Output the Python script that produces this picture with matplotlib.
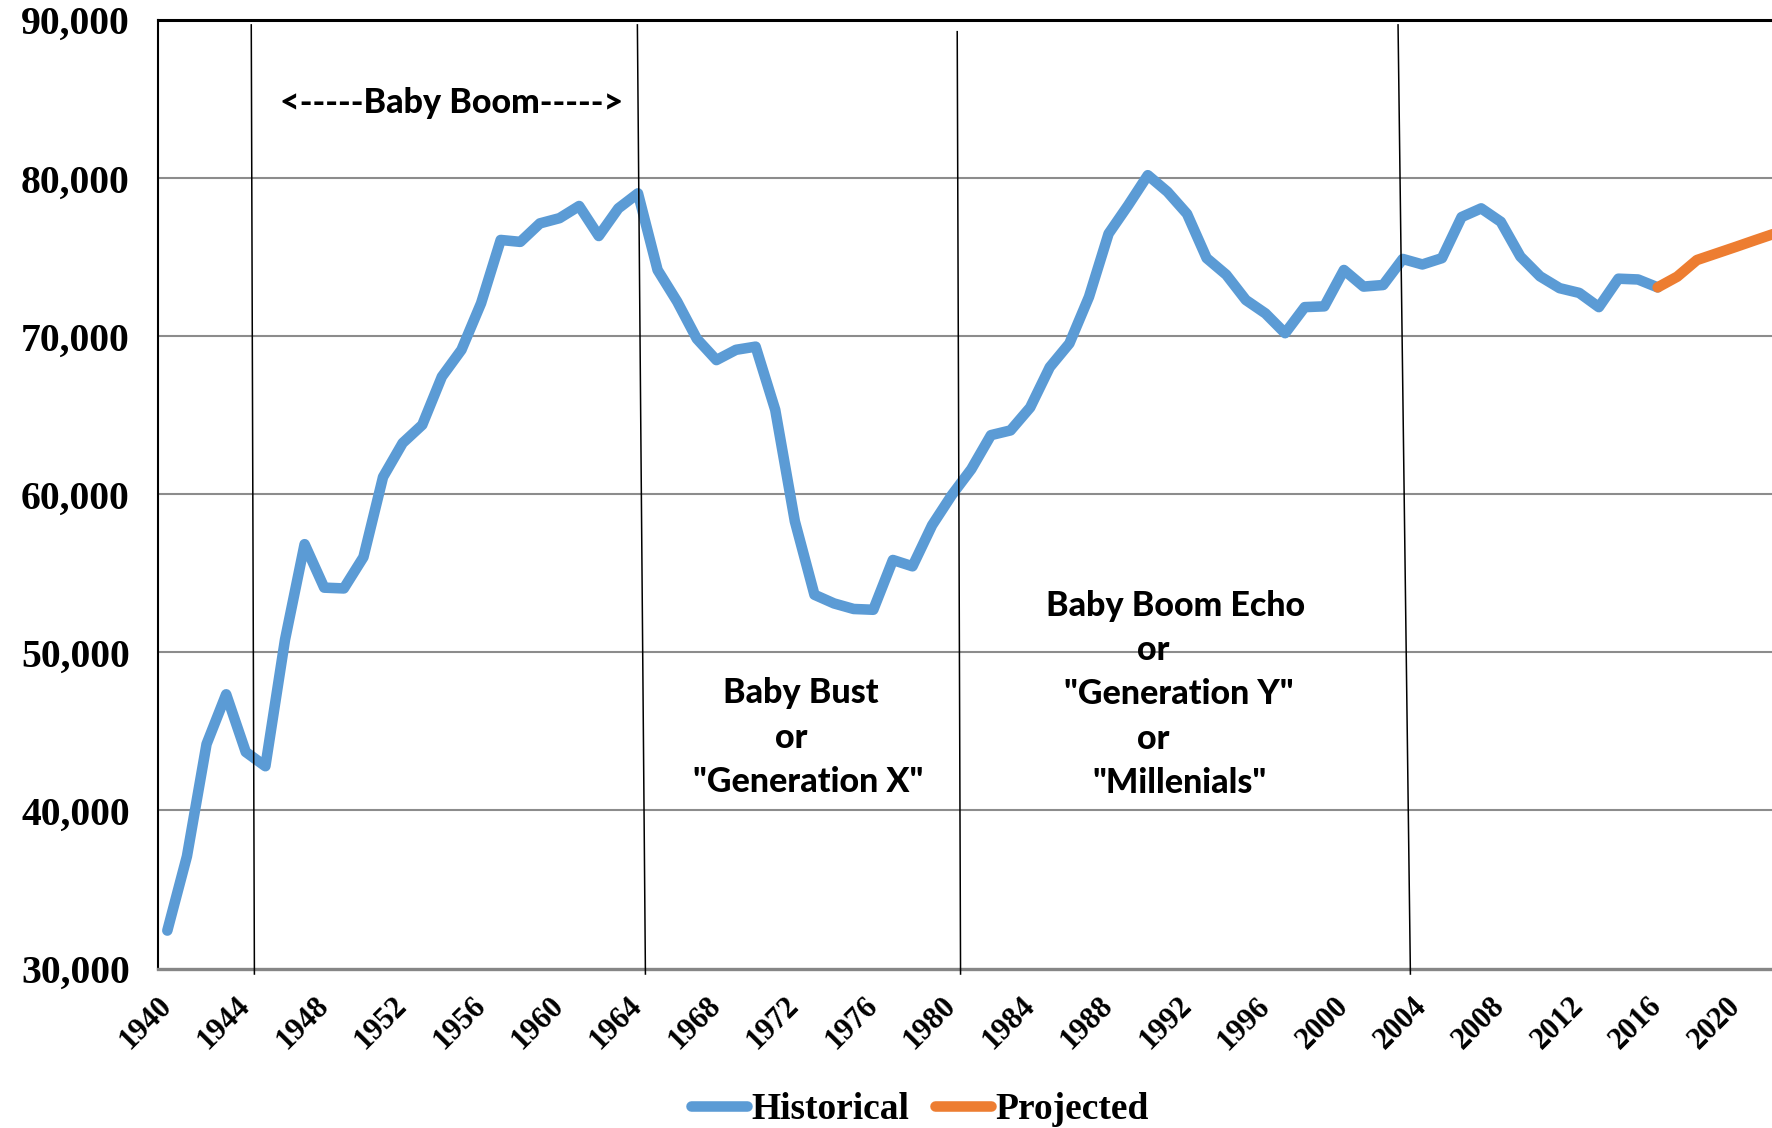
"""Annual births line chart: historical series plus a short projection,
with generation bands marked by thin vertical dividers."""

import matplotlib

matplotlib.use("Agg")
import matplotlib.pyplot as plt
from matplotlib.ticker import FuncFormatter, FixedLocator

# --- data -----------------------------------------------------------------
hist_years = list(range(1940, 2017))
hist_values = [
    32400, 37100, 44200, 47350, 43700, 42800, 50800, 56850, 54100, 54050,  # 1940s
    56030, 61100, 63250, 64400, 67450, 69150, 72100, 76100, 75980, 77150,  # 1950s
    77480, 78250, 76350, 78100, 79050, 74200, 72200, 69850, 68500, 69150,  # 1960s
    69350, 65350, 58300, 53650, 53100, 52750, 52700, 55850, 55450, 58050,  # 1970s
    59950, 61600, 63750, 64050, 65500, 68050, 69550, 72500, 76500, 78300,  # 1980s
    80200, 79150, 77750, 74950, 73900, 72300, 71450, 70200, 71850, 71900,  # 1990s
    74200, 73150, 73250, 74900, 74550, 74950, 77550, 78100, 77250, 75050,  # 2000s
    73800, 73050, 72750, 71850, 73650, 73600, 73100,                       # 2010s
]
proj_years = list(range(2016, 2023))
proj_values = [73100, 73780, 74830, 75250, 75670, 76100, 76520]

x_ticks = list(range(1940, 2021, 4))
y_ticks = list(range(30000, 90001, 10000))

# generation dividers: (x at top, x at bottom) -- hand drawn, slightly slanted
dividers = [(1944.28, 1944.44), (1963.97, 1964.38), (1980.28, 1980.45), (2002.76, 2003.39)]
divider_tops = [89710, 89710, 89280, 89710]

# annotation lines: (text, year, value)
notes = [
    ("<-----Baby Boom----->", 1954.5, 84760),
    ("Baby Bust", 1972.3, 47430),
    ("or", 1971.8, 44590),
    ('"Generation X"', 1972.7, 41800),
    ("Baby Boom Echo", 1991.4, 52940),
    ("or", 1990.3, 50160),
    ('"Generation Y"', 1991.6, 47370),
    ("or", 1990.3, 44530),
    ('"Millenials"', 1991.6, 41740),
]

BLUE = "#5B9BD5"
ORANGE = "#ED7D31"
SERIF = ["Liberation Serif", "DejaVu Serif"]
SANS = ["Lato", "DejaVu Sans"]


def render(out_path: str) -> None:
    fig = plt.figure(figsize=(17.72, 11.28), dpi=100)
    ax = fig.add_axes([0.0889, 0.1414, 0.9111, 0.8406])

    ax.set_xlim(1939.5, 2021.83)
    ax.set_ylim(30000, 90000)

    # horizontal gridlines
    for v in y_ticks[1:-1]:
        ax.axhline(v, color="#8c8c8c", lw=1.5, zorder=1)

    ax.plot(hist_years, hist_values, color=BLUE, lw=7.6, label="Historical",
            solid_joinstyle="round", solid_capstyle="round", zorder=3)
    ax.plot(proj_years, proj_values, color=ORANGE, lw=7.6, label="Projected",
            solid_joinstyle="round", solid_capstyle="round", zorder=3)

    for (x_top, x_bot), y_top in zip(dividers, divider_tops):
        ax.plot([x_top, x_bot], [y_top, 29650], color="black", lw=1.1,
                zorder=4, clip_on=False)

    for text, yr, val in notes:
        ax.text(yr, val, text, ha="center", va="center", fontsize=24.5,
                fontweight="black", family=SANS, zorder=5)

    # axes styling
    ax.spines["right"].set_visible(False)
    ax.spines["top"].set_color("black")
    ax.spines["top"].set_linewidth(2.2)
    ax.spines["left"].set_color("black")
    ax.spines["left"].set_linewidth(1.5)
    ax.spines["bottom"].set_color("#868686")
    ax.spines["bottom"].set_linewidth(2.4)

    ax.yaxis.set_major_locator(FixedLocator(y_ticks))
    ax.yaxis.set_major_formatter(FuncFormatter(lambda v, _: f"{int(v):,}"))
    ax.xaxis.set_major_locator(FixedLocator(x_ticks))
    ax.tick_params(axis="both", length=0)
    ax.tick_params(axis="y", pad=20)
    ax.tick_params(axis="x", pad=24)
    for lab in ax.get_yticklabels():
        lab.set_family(SERIF)
        lab.set_fontweight("bold")
        lab.set_fontsize(28.5)
    for lab in ax.get_xticklabels():
        lab.set_family(SERIF)
        lab.set_fontweight("bold")
        lab.set_fontsize(22)
        lab.set_rotation(45)
        lab.set_ha("right")
        lab.set_va("center")
        lab.set_rotation_mode("anchor")

    leg = fig.legend(
        loc="center", bbox_to_anchor=(0.519, 0.016), ncol=2, frameon=False,
        prop={"family": SERIF, "weight": "bold", "size": 27},
        handlelength=1.5, handletextpad=0.1, columnspacing=0.7,
    )
    for line in leg.get_lines():
        line.set_linewidth(7.6)
        line.set_solid_capstyle("round")

    fig.savefig(out_path, dpi=100)


def main() -> int:
    render("out.png")
    return 0


if __name__ == "__main__":
    raise SystemExit(main())
